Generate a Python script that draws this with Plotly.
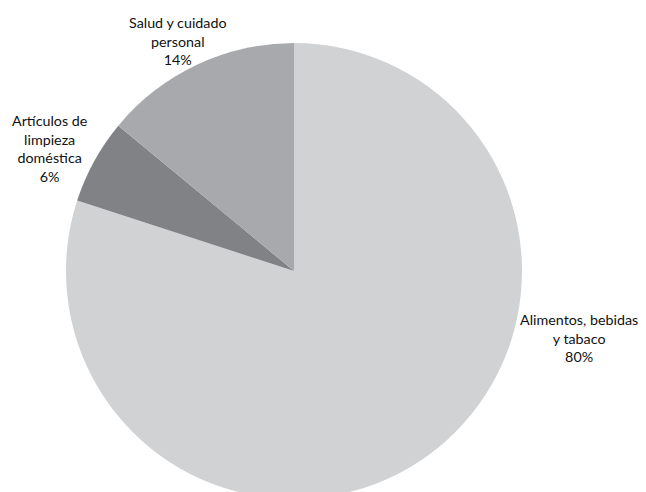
import plotly.graph_objects as go

categories = ["Alimentos, bebidas<br>y tabaco", "Artículos de<br>limpieza<br>doméstica", "Salud y cuidado<br>personal"]
values = [80, 6, 14]
colors = ["#d1d2d4", "#808285", "#a7a9ac"]

W, H = 646, 500
# pie geometry in page pixels (page has ~8px offset)
cx, cy, r = 286, 263, 228

fig = go.Figure(go.Pie(
    labels=categories,
    values=values,
    sort=False,
    direction="clockwise",
    rotation=0,
    marker=dict(colors=colors, line=dict(width=0)),
    textinfo="none",
    domain=dict(x=[(cx - r) / W, (cx + r) / W], y=[1 - (cy + r) / H, 1 - (cy - r) / H]),
    showlegend=False,
    hoverinfo="label+percent",
))

label_pos = [(571, 330), (41, 140), (170, 33)]
total = sum(values)
for cat, v, (lx, ly) in zip(categories, values, label_pos):
    fig.add_annotation(
        x=lx / W, y=1 - ly / H, xref="paper", yref="paper",
        text=f"{cat}<br>{round(100 * v / total)}%",
        showarrow=False, xanchor="center", yanchor="middle", align="center",
        font=dict(family="Lato, Open Sans, sans-serif", size=14.3, color="#111111"),
    )

fig.update_layout(
    width=W, height=H,
    margin=dict(l=0, r=0, t=0, b=0),
    paper_bgcolor="white",
    plot_bgcolor="white",
)
fig.write_html("out.html")
